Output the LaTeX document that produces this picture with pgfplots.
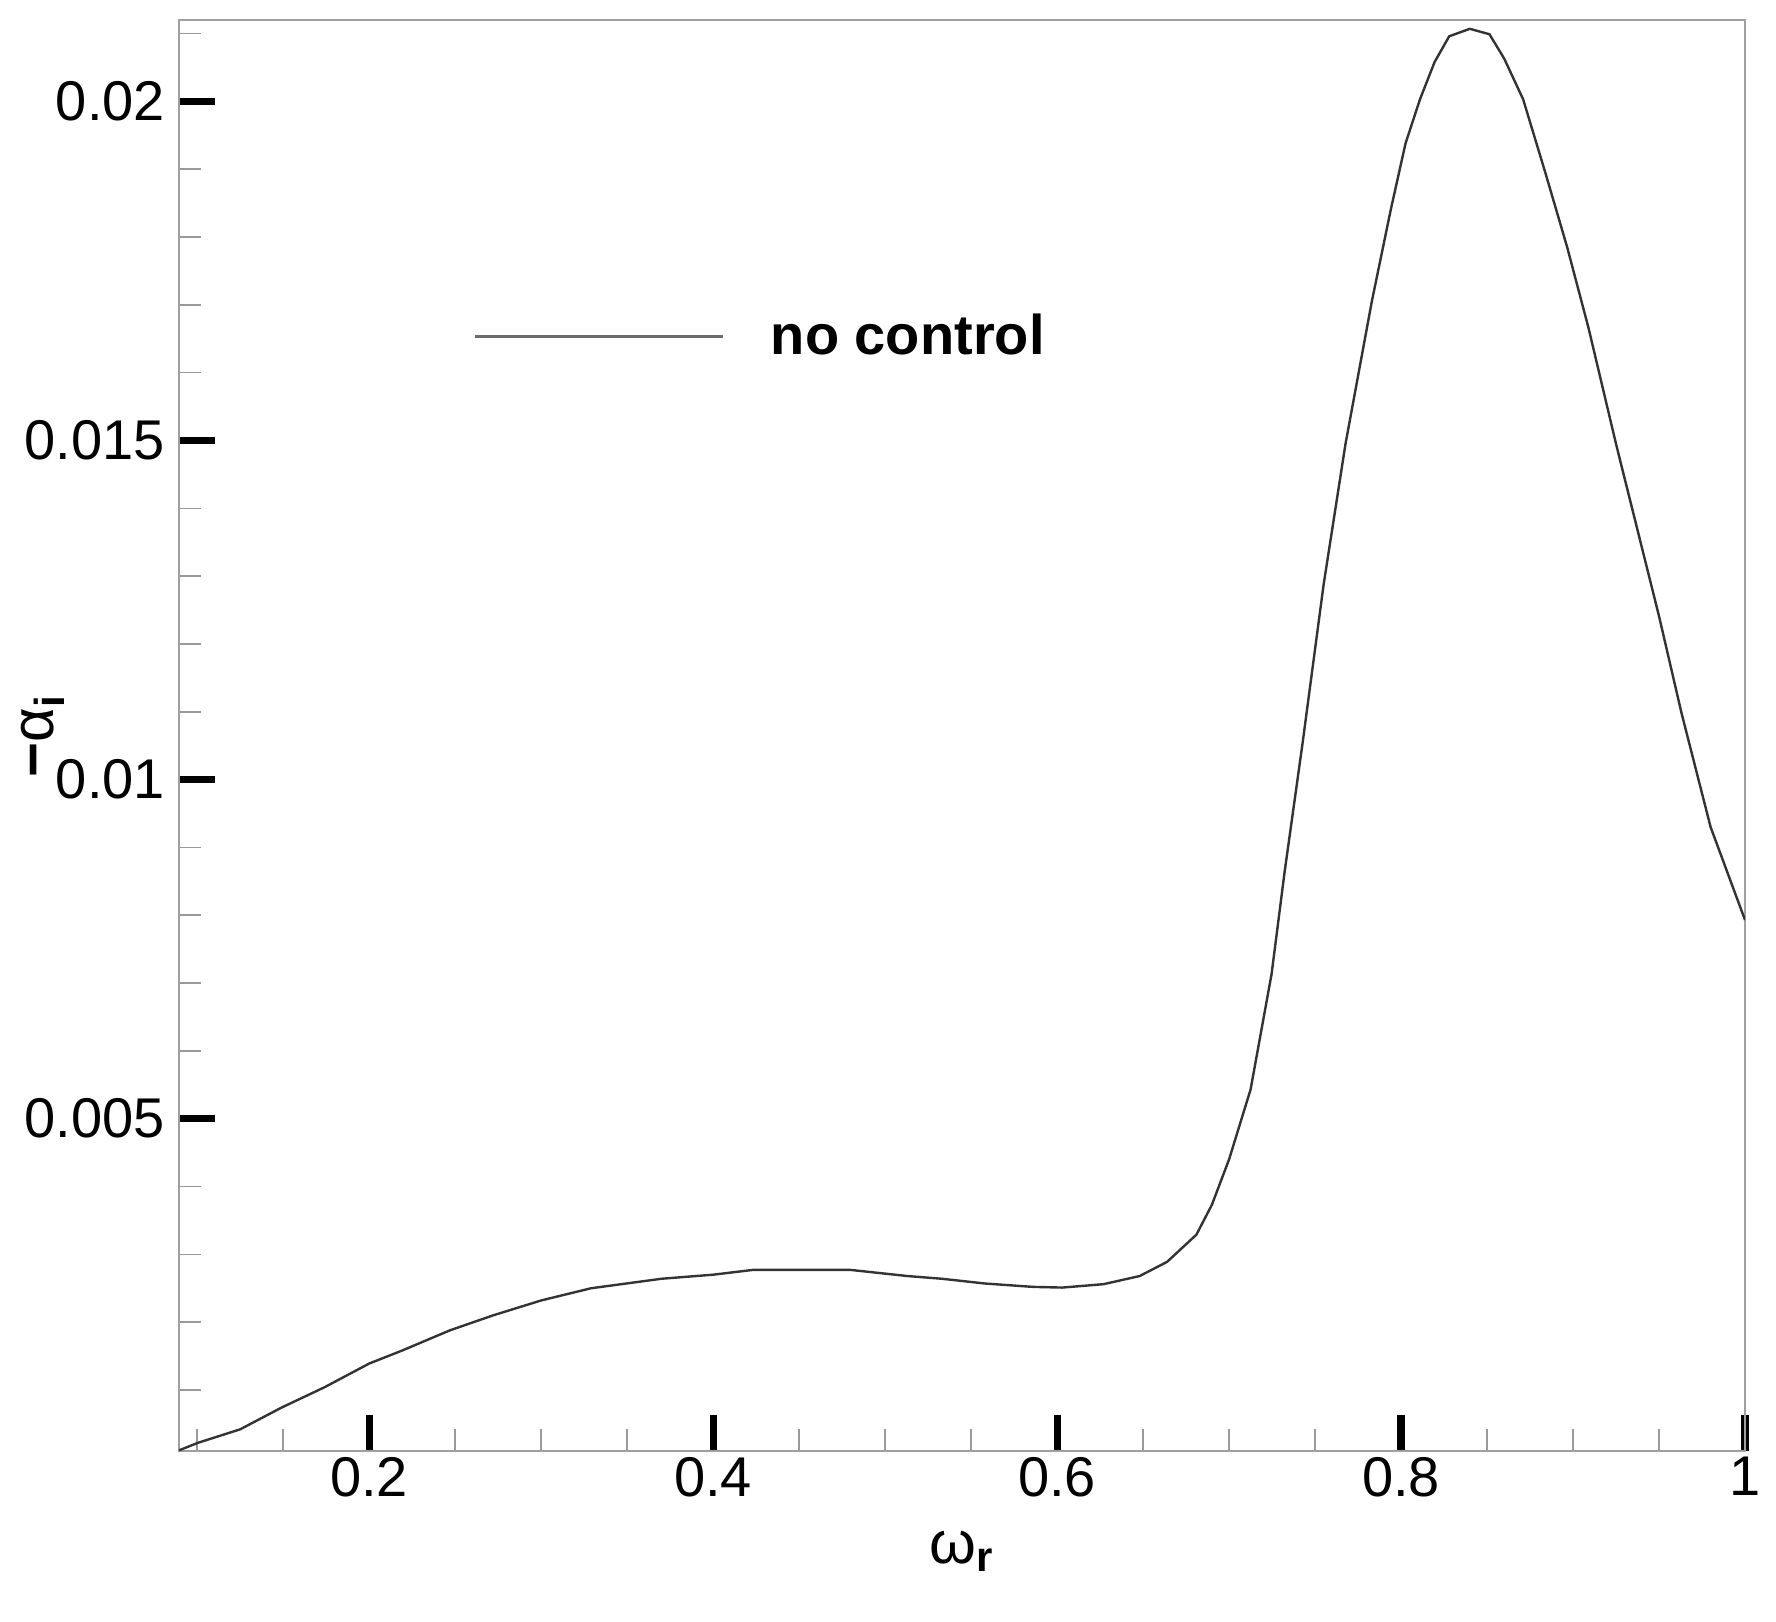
\documentclass[border=0pt]{standalone}
\usepackage{fontspec}
\setmainfont{Liberation Sans}
\usepackage{pgfplots}
\pgfplotsset{compat=1.18}
\usetikzlibrary{calc}

\begin{document}
\begin{tikzpicture}
\begin{axis}[
  name=ax,
  scale only axis,
  width=391.5pt, height=357.75pt,
  xmin=0.0894, xmax=1.0,
  ymin=0.0001, ymax=0.0212,
  axis line style={gray!75, line width=0.7pt},
  xtick={0.2,0.4,0.6,0.8,1.0},
  xticklabels={0.2,0.4,0.6,0.8,1},
  minor xtick={0.1,0.15,0.25,0.3,0.35,0.45,0.5,0.55,0.65,0.7,0.75,0.85,0.9,0.95},
  ytick={0.005,0.01,0.015,0.02},
  yticklabels={0.005,0.01,0.015,0.02},
  minor ytick={0.001,0.002,0.003,0.004,0.006,0.007,0.008,0.009,0.011,0.012,0.013,0.014,0.016,0.017,0.018,0.019,0.021},
  scaled y ticks=false, scaled x ticks=false,
  xtick pos=bottom, ytick pos=left,
  tick align=inside,
  major tick length=9pt, minor tick length=5.5pt,
  major tick style={black, line width=1.8pt},
  minor tick style={gray!80, line width=0.4pt},
  ticklabel style={font=\fontsize{14}{16}\selectfont},
  xticklabel style={yshift=2pt},
  xlabel={ω\textsubscript{\bfseries r}},
  ylabel={{\bfseries −}α\textsubscript{\bfseries i}},
  label style={font=\fontsize{15}{17}\selectfont},
  xlabel style={at={(axis description cs:0.5,-0.07)}, anchor=center},
  ylabel style={at={(axis description cs:-0.087,0.5)}, anchor=center},
  legend style={at={(axis cs:0.2603,0.01653)}, anchor=west, draw=none, fill=none,
    inner sep=0pt, column sep=11.5pt,
    font=\bfseries\fontsize{14}{16}\selectfont,
    nodes={inner sep=0pt}},
  legend image code/.code={\draw[gray!85!black, line width=0.8pt] (0pt,0pt) -- (62pt,0pt);},
]
\addplot[black!80, line width=0.6pt] coordinates {
  (0.0894,0.00011) (0.1003,0.00022) (0.125,0.00042) (0.149,0.00074) (0.174,0.00104)
  (0.200,0.00139) (0.219,0.00158) (0.247,0.00188) (0.272,0.00210) (0.300,0.00232)
  (0.329,0.00250) (0.370,0.00264) (0.400,0.00270) (0.423,0.00277) (0.452,0.00277)
  (0.480,0.00277) (0.513,0.00268) (0.533,0.00264) (0.558,0.00257) (0.586,0.00252)
  (0.603,0.00251) (0.627,0.00256) (0.648,0.00268) (0.664,0.00289) (0.681,0.00329)
  (0.690,0.00373) (0.700,0.00440) (0.7125,0.00543) (0.7247,0.00713) (0.7323,0.00864)
  (0.7427,0.01053) (0.755,0.01288) (0.7677,0.01495) (0.783,0.01705) (0.794,0.0184)
  (0.8026,0.01938) (0.811,0.02003) (0.8195,0.02058) (0.828,0.02096) (0.840,0.02107)
  (0.8514,0.02099) (0.860,0.02063) (0.871,0.02003) (0.884,0.01894) (0.8966,0.01785)
  (0.909,0.01666) (0.925,0.01495) (0.950,0.01241) (0.963,0.01099) (0.980,0.0093)
  (1.0,0.00793)
};
\addlegendentry{no control}
\end{axis}
\pgfresetboundingbox
\path[use as bounding box] ($(ax.south west)+(-44.75pt,-42.5pt)$) rectangle ($(ax.north east)+(7.75pt,5pt)$);
\end{tikzpicture}
\end{document}
